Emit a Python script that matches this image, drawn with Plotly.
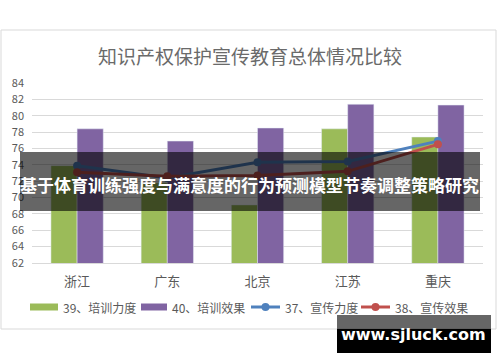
import plotly.graph_objects as go

categories = ["浙江", "广东", "北京", "江苏", "重庆"]
train_strength = [73.9, 71.8, 69.1, 78.4, 77.4]   # 39、培训力度
train_effect = [78.4, 76.9, 78.5, 81.4, 81.3]     # 40、培训效果
promo_strength = [73.9, 72.4, 74.3, 74.4, 76.9]   # 37、宣传力度
promo_effect = [73.1, 72.6, 72.7, 73.2, 76.5]     # 38、宣传效果
names = ["39、培训力度", "40、培训效果", "37、宣传力度", "38、宣传效果"]
y_ticks = list(range(62, 85, 2))

GREEN, PURPLE, BLUE, RED = "#9BBB59", "#8064A2", "#4F81BD", "#C0504D"
TXT = "#595959"
FONT = "Noto Sans CJK SC"

W, H = 500, 362
L, R, T, B = 32, 17, 83, 99
PW, PH = W - L - R, H - T - B


def px(x):
    return (x - L) / PW


def py(y):
    return (H - B - y) / PH


fig = go.Figure()
fig.add_trace(go.Bar(x=categories, y=train_strength, name=names[0], marker_color=GREEN))
fig.add_trace(go.Bar(x=categories, y=train_effect, name=names[1], marker_color=PURPLE))
fig.add_trace(go.Scatter(x=categories, y=promo_strength, name=names[2], mode="lines+markers",
                         line=dict(color=BLUE, width=3), marker=dict(size=8, color=BLUE)))
fig.add_trace(go.Scatter(x=categories, y=promo_effect, name=names[3], mode="lines+markers",
                         line=dict(color=RED, width=3), marker=dict(size=8, color=RED)))

shapes = []
annotations = []

# chart border
shapes.append(dict(type="rect", xref="paper", yref="paper", x0=px(1), x1=px(496), y0=py(329), y1=py(30),
                   line=dict(color="#d9d9d9", width=1), layer="below"))

# title
annotations.append(dict(text="知识产权保护宣传教育总体情况比较", xref="paper", yref="paper",
                        x=px(250), y=py(55), showarrow=False, xanchor="center", yanchor="middle",
                        font=dict(family=FONT, size=19, color="#6a6a6a")))

# manual legend
ly = 307
legend_items = [
    ("bar", GREEN, 30, 58, names[0]),
    ("bar", PURPLE, 141, 167, names[1]),
    ("line", BLUE, 251, 280, names[2]),
    ("line", RED, 361, 390, names[3]),
]
for kind, col, x0, x1, label in legend_items:
    if kind == "bar":
        shapes.append(dict(type="rect", xref="paper", yref="paper", x0=px(x0), x1=px(x1),
                           y0=py(ly + 3.5), y1=py(ly - 3.5), fillcolor=col, line=dict(width=0)))
    else:
        shapes.append(dict(type="line", xref="paper", yref="paper", x0=px(x0), x1=px(x1),
                           y0=py(ly), y1=py(ly), line=dict(color=col, width=3)))
        cx = (x0 + x1) / 2
        shapes.append(dict(type="circle", xref="paper", yref="paper", x0=px(cx - 4), x1=px(cx + 4),
                           y0=py(ly + 4), y1=py(ly - 4), fillcolor=col, line=dict(width=0)))
    annotations.append(dict(text=label, xref="paper", yref="paper", x=px(x1 + 3), y=py(ly),
                            showarrow=False, xanchor="left", yanchor="middle",
                            font=dict(family=FONT, size=12, color=TXT)))

# overlay banner
shapes.append(dict(type="rect", xref="paper", yref="paper", x0=px(20), x1=px(480), y0=py(211), y1=py(152),
                   fillcolor="rgba(0,0,0,0.6)", line=dict(width=0), layer="above"))
annotations.append(dict(text="<b>基于体育训练强度与满意度的行为预测模型节奏调整策略研究</b>", xref="paper", yref="paper",
                        x=px(249), y=py(184), showarrow=False, xanchor="center", yanchor="middle",
                        font=dict(family=FONT, size=17, color="white")))

# watermark box
shapes.append(dict(type="rect", xref="paper", yref="paper", x0=px(337), x1=px(491), y0=py(329), y1=py(315),
                   fillcolor="rgba(0,0,0,0.6)", line=dict(width=0), layer="above"))
shapes.append(dict(type="rect", xref="paper", yref="paper", x0=px(337), x1=px(491), y0=py(353), y1=py(329),
                   fillcolor="black", line=dict(width=0), layer="above"))
annotations.append(dict(text="<b>www.sjluck.com</b>", xref="paper", yref="paper",
                        x=px(413), y=py(334), showarrow=False, xanchor="center", yanchor="middle",
                        font=dict(family="DejaVu Sans", size=16, color="white")))

fig.update_layout(
    width=W, height=H,
    margin=dict(l=L, r=R, t=T, b=B, pad=0),
    paper_bgcolor="white", plot_bgcolor="white",
    barmode="group", bargap=0.42, bargroupgap=0,
    showlegend=False,
    shapes=shapes, annotations=annotations,
    font=dict(family=FONT, color=TXT),
    xaxis=dict(showgrid=False, showline=True, linecolor="#d9d9d9", linewidth=1, ticks="",
               tickfont=dict(size=13, color=TXT), ticklabelstandoff=6),
    yaxis=dict(range=[62, 84], tickvals=y_ticks, showgrid=True, gridcolor="#d9d9d9", gridwidth=1,
               zeroline=False, showline=False, ticks="", tickfont=dict(size=11, color=TXT),
               ticklabelstandoff=7),
)

fig.write_html("out.html", config={"displayModeBar": False},
               post_script="document.body.style.margin='0';document.body.style.overflow='hidden';")
